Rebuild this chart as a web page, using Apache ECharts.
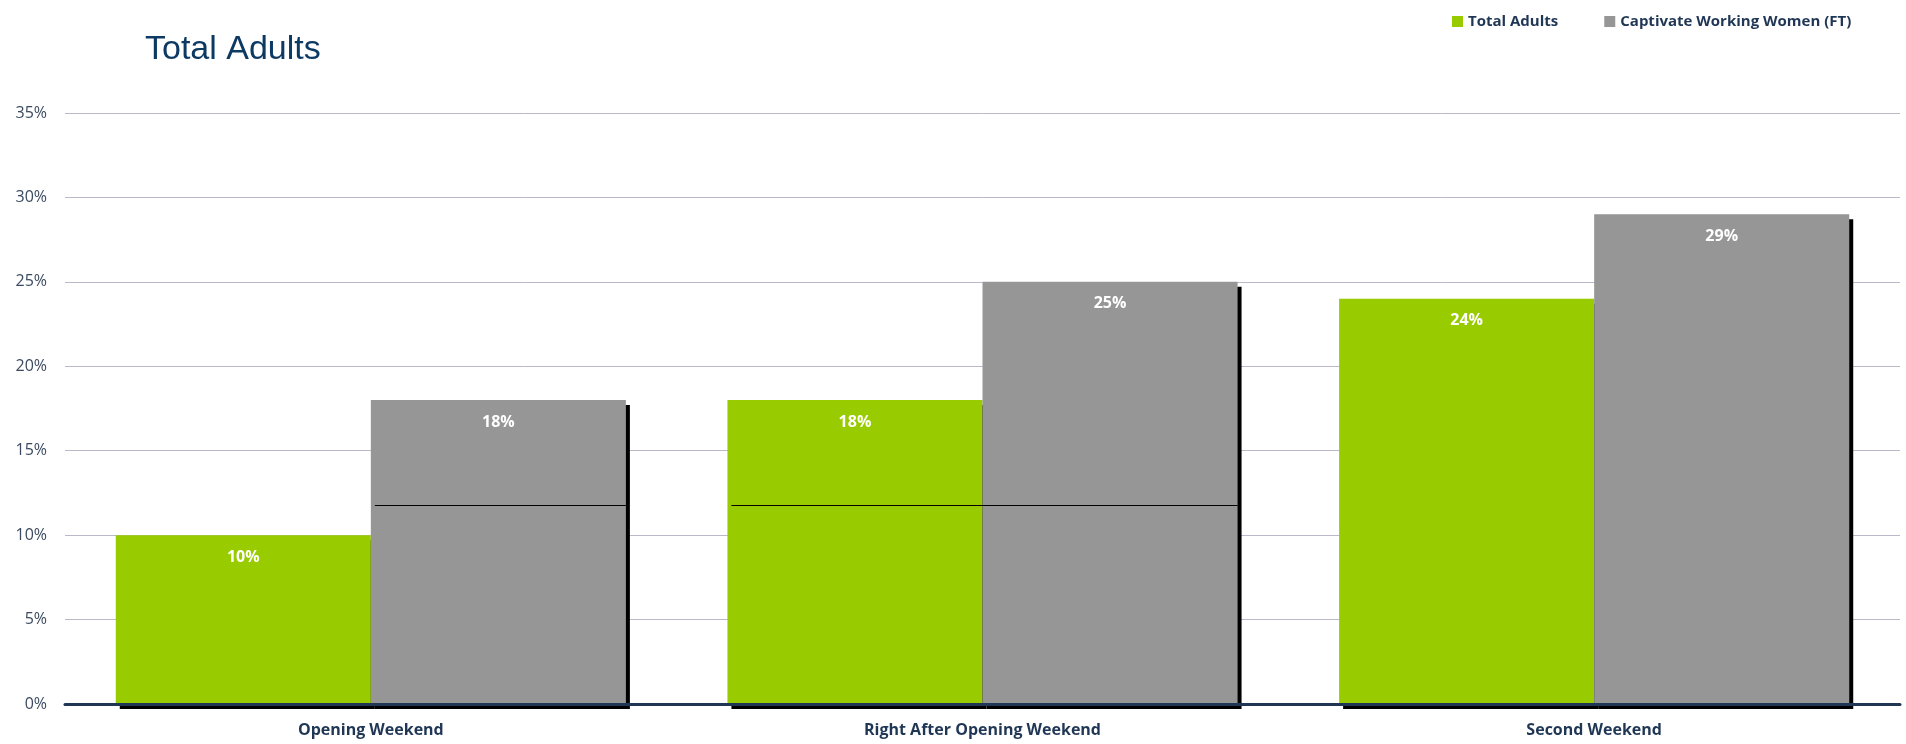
<!DOCTYPE html>
<html>
<head>
<meta charset="utf-8">
<title>Total Adults</title>
<script src="https://cdn.jsdelivr.net/npm/echarts@6/dist/echarts.min.js"></script>
<style>
  html, body { margin: 0; padding: 0; background: #ffffff; }
  #chart { width: 1906px; height: 744px; }
</style>
</head>
<body>
<div id="chart"></div>
<script>
// Share of viewers by viewing window
const categories = ['Opening Weekend', 'Right After Opening Weekend', 'Second Weekend'];
const seriesNames = ['Total Adults', 'Captivate Working Women (FT)'];
const totalAdults = [10, 18, 24];
const workingWomen = [18, 25, 29];
const yTicks = { min: 0, max: 35, interval: 5 };

// Thin reference rules across the bars: [category, level, first bar, last bar]
const ruleSpans = [
  [0, 11.8, 1, 1],
  [1, 11.8, 0, 1]
];

const NAVY = '#1f3655';
const CAT_GAP = 0.166;

const chart = echarts.init(document.getElementById('chart'), null, { renderer: 'canvas' });

const barShadow = {
  shadowColor: '#000000',
  shadowBlur: 0,
  shadowOffsetX: 4,
  shadowOffsetY: 5
};

const valueLabel = {
  show: true,
  position: 'insideTop',
  distance: 14,
  formatter: '{c}%',
  fontFamily: 'Open Sans',
  fontSize: 16,
  fontWeight: 'bold',
  color: '#ffffff'
};

chart.setOption({
  animation: false,
  backgroundColor: '#ffffff',
  title: {
    text: 'Total Adults',
    left: 140,
    top: 28,
    textStyle: {
      fontFamily: 'Liberation Sans',
      fontSize: 34,
      fontWeight: 'normal',
      color: '#0d3a63'
    }
  },
  legend: {
    data: seriesNames,
    left: 1447,
    top: 9,
    itemWidth: 11,
    itemHeight: 11,
    itemGap: 46,
    icon: 'rect',
    textStyle: {
      fontFamily: 'Open Sans',
      fontSize: 15,
      fontWeight: 'bold',
      color: NAVY
    }
  },
  grid: {
    left: 65,
    right: 6,
    top: 113,
    bottom: 40,
    containLabel: false
  },
  xAxis: {
    type: 'category',
    data: categories,
    axisLine: { show: true, lineStyle: { color: NAVY, width: 3 } },
    axisTick: { show: false },
    axisLabel: {
      margin: 18,
      fontFamily: 'Open Sans',
      fontSize: 16,
      fontWeight: 'bold',
      color: NAVY
    },
    z: 5
  },
  yAxis: {
    type: 'value',
    min: yTicks.min,
    max: yTicks.max,
    interval: yTicks.interval,
    axisLine: { show: false },
    axisTick: { show: false },
    splitLine: { lineStyle: { color: '#b9b9c9', width: 1 } },
    axisLabel: {
      formatter: '{value}%',
      margin: 18,
      fontFamily: 'Open Sans',
      fontSize: 16,
      color: '#3b4a60'
    }
  },
  series: [
    {
      name: seriesNames[0],
      type: 'bar',
      data: totalAdults,
      barGap: '0%',
      barCategoryGap: (CAT_GAP * 100) + '%',
      itemStyle: Object.assign({ color: '#99cc00' }, barShadow),
      label: valueLabel
    },
    {
      name: seriesNames[1],
      type: 'bar',
      data: workingWomen,
      barGap: '0%',
      barCategoryGap: (CAT_GAP * 100) + '%',
      itemStyle: Object.assign({ color: '#969696' }, barShadow),
      label: valueLabel
    },
    {
      type: 'custom',
      name: 'rules',
      data: ruleSpans,
      z: 10,
      silent: true,
      renderItem: function (params, api) {
        const cat = api.value(0);
        const level = api.value(1);
        const first = api.value(2);
        const last = api.value(3);
        const pt = api.coord([cat, level]);
        const band = api.size([1, 0])[0];
        const barW = band * (1 - CAT_GAP) / 2;
        const groupStart = pt[0] - barW;
        const x0 = groupStart + first * barW + 4;
        const x1 = groupStart + (last + 1) * barW;
        const y = Math.round(pt[1]) + 0.5;
        return {
          type: 'line',
          shape: { x1: x0, y1: y, x2: x1, y2: y },
          style: { stroke: '#000000', lineWidth: 1 }
        };
      }
    }
  ]
});
</script>
</body>
</html>
